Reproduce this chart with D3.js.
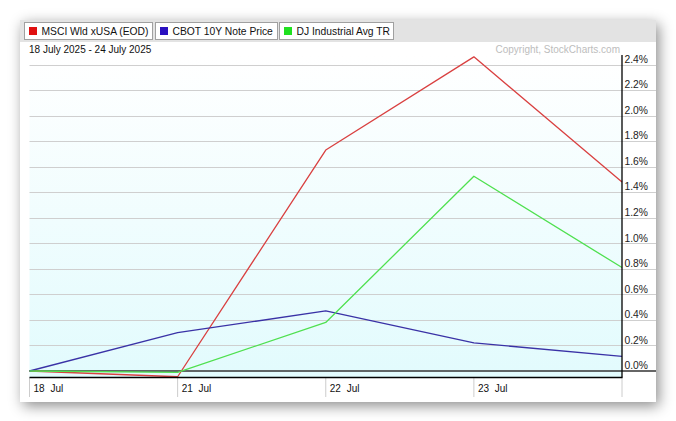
<!DOCTYPE html>
<html>
<head>
<meta charset="utf-8">
<script src="https://cdn.jsdelivr.net/npm/d3@7"></script>
<style>
  html, body { margin: 0; padding: 0; background: #ffffff; width: 676px; height: 421px; overflow: hidden; }
  #card { position: absolute; left: 20px; top: 20px; width: 636px; height: 382px; background: #fff;
          box-shadow: 3px 4px 13px rgba(0,0,0,0.45); }
  svg { position: absolute; left: 0; top: 0; }
  text { font-family: "Liberation Sans", Arial, sans-serif; font-size: 10px; }
</style>
</head>
<body>
<div id="card"></div>
<svg id="chart" width="676" height="421"></svg>
<script>
// ---- data ----
const dates = ["18 Jul", "21 Jul", "22 Jul", "23 Jul", "24 Jul"];
const dateLabels = ["18 Jul", "21 Jul", "22 Jul", "23 Jul"];
const msciValues = [0.00, -0.045, 1.73, 2.46, 1.48];
const cbotValues = [0.00, 0.30, 0.47, 0.22, 0.115];
const djValues   = [0.00, -0.01, 0.38, 1.525, 0.81];
const seriesNames = ["MSCI Wld xUSA (EOD)", "CBOT 10Y Note Price", "DJ Industrial Avg TR"];
const yTickValues = [0.0, 0.2, 0.4, 0.6, 0.8, 1.0, 1.2, 1.4, 1.6, 1.8, 2.0, 2.2, 2.4];
const dateRangeText = "18 July 2025 - 24 July 2025";
const copyrightText = "Copyright, StockCharts.com";

const lineColors = ["#d94040", "#3a32a6", "#4fe04f"];
const swatchColors = ["#e01010", "#2a10c0", "#20e020"];

const svg = d3.select("#chart");
const L = 29.5, R = 622, plotTop = 55, plotBottom = 377.5, cardR = 656;

const x = d3.scalePoint().domain(dates).range([L, R]);
const y = d3.scaleLinear().domain([0, 2.4]).range([371, 64.5]);

// gradient
const defs = svg.append("defs");
const grad = defs.append("linearGradient").attr("id", "bg").attr("x1", 0).attr("y1", 0).attr("x2", 0).attr("y2", 1);
grad.append("stop").attr("offset", "0%").attr("stop-color", "#ffffff");
grad.append("stop").attr("offset", "100%").attr("stop-color", "#e2fbfd");

// legend bar
svg.append("rect").attr("x", 20).attr("y", 20).attr("width", 636).attr("height", 22).attr("fill", "#e3e3e3");
const legendBoxes = [[24, 152], [155, 277], [279, 393]];
seriesNames.forEach((n, i) => {
  const [a, b] = legendBoxes[i];
  svg.append("rect").attr("x", a + 0.5).attr("y", 22.5).attr("width", b - a).attr("height", 17)
    .attr("fill", "#fff").attr("stroke", "#a0a0a0");
  svg.append("rect").attr("x", a + 5).attr("y", 27).attr("width", 8).attr("height", 8).attr("fill", swatchColors[i]);
  svg.append("text").attr("x", a + 17.5).attr("y", 34.5).attr("fill", "#111").style("font-size", "10.3px").text(n);
});

// date range + copyright
svg.append("text").attr("x", 29).attr("y", 52.5).attr("fill", "#111").text(dateRangeText);
svg.append("text").attr("x", 620).attr("y", 53).attr("text-anchor", "end").attr("fill", "#bdbdbd").text(copyrightText);

// plot background
svg.append("rect").attr("x", L).attr("y", plotTop).attr("width", R - L).attr("height", plotBottom - plotTop)
  .attr("fill", "url(#bg)");

// gridlines
svg.append("g").selectAll("line").data(yTickValues.filter(d => d > 0)).join("line")
  .attr("x1", L).attr("x2", cardR).attr("y1", d => Math.round(y(d)) + 0.5).attr("y2", d => Math.round(y(d)) + 0.5)
  .attr("stroke", "#cfcfcf").attr("stroke-width", 1.2);

// zero line
svg.append("line").attr("x1", L).attr("x2", cardR).attr("y1", y(0)).attr("y2", y(0))
  .attr("stroke", "#333").attr("stroke-width", 1.4);

// y axis (right) labels
const yAxis = d3.axisRight(y).tickValues(yTickValues).tickSize(0).tickPadding(2.5)
  .tickFormat(d => d.toFixed(1) + "%");
const gy = svg.append("g").attr("transform", `translate(${R},0)`).call(yAxis);
gy.select(".domain").remove();
gy.selectAll("text").attr("dy", "-0.22em").attr("fill", "#222")
  .style("font-family", '"Liberation Sans", Arial, sans-serif').style("font-size", "10.3px");

// x axis band ticks
svg.append("g").selectAll("line").data(dates).join("line")
  .attr("x1", d => x(d)).attr("x2", d => x(d)).attr("y1", plotBottom).attr("y2", 397)
  .attr("stroke", "#cccccc").attr("stroke-width", 1);
svg.append("g").selectAll("text").data(dateLabels).join("text")
  .attr("x", d => x(d) + 4).attr("y", 392).attr("fill", "#111").style("word-spacing", "3px").text(d => d);

// series lines
const line = d3.line().x((d, i) => x(dates[i])).y(d => y(d));
[msciValues, cbotValues, djValues].forEach((vals, i) => {
  svg.append("path").datum(vals).attr("d", line).attr("fill", "none")
    .attr("stroke", lineColors[i]).attr("stroke-width", 1.3).attr("stroke-linejoin", "round");
});

// plot border: bottom and right axis
svg.append("line").attr("x1", L).attr("x2", R + 0.5).attr("y1", plotBottom).attr("y2", plotBottom)
  .attr("stroke", "#000").attr("stroke-width", 1.3);
svg.append("line").attr("x1", R).attr("x2", R).attr("y1", plotTop).attr("y2", plotBottom)
  .attr("stroke", "#000").attr("stroke-width", 1.3);
</script>
</body>
</html>
